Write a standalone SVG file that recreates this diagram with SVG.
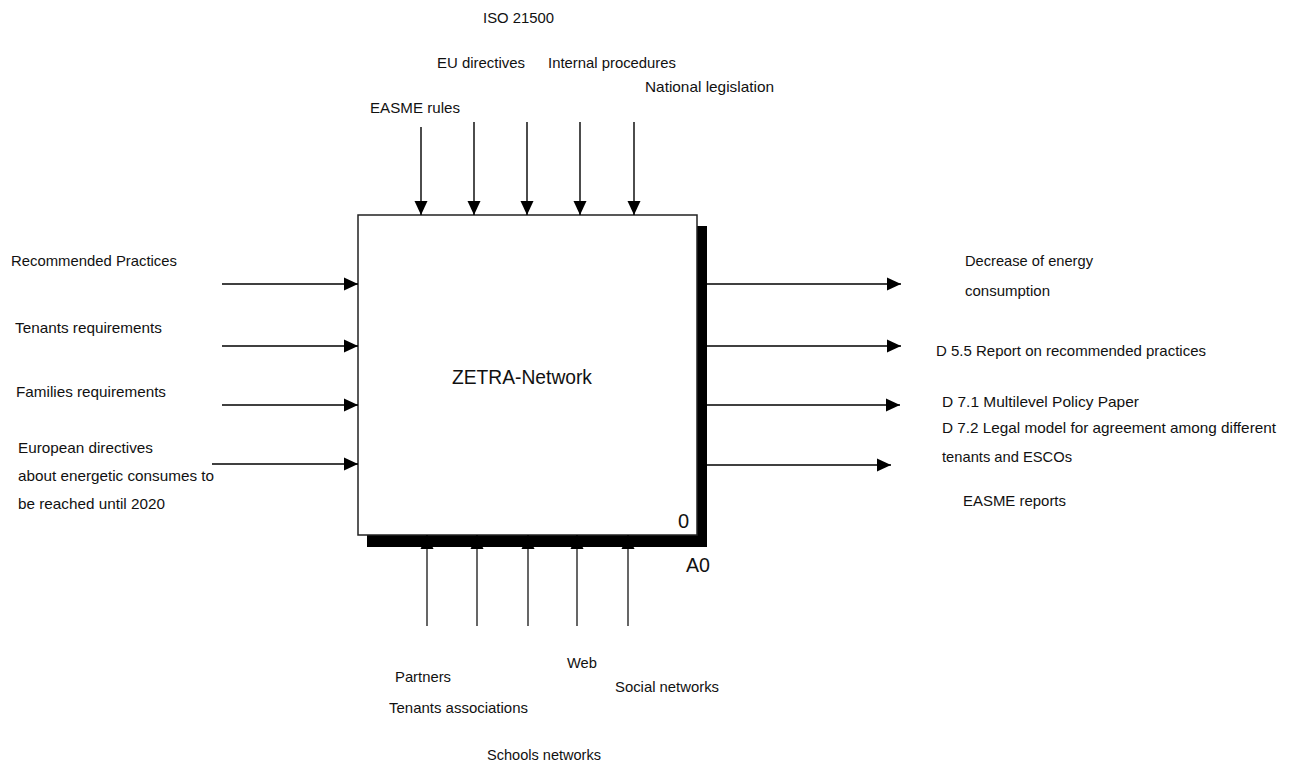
<svg xmlns="http://www.w3.org/2000/svg" width="1291" height="765" viewBox="0 0 1291 765">
<style>
text{font-family:"Liberation Sans",Arial,sans-serif;font-size:15px;fill:#111}
.big{font-size:20px}
.c line{stroke:#000;stroke-width:1.7}
.c line.thin{stroke-width:1.2}
.c line.v{stroke-width:1.4}
</style>
<defs>
<marker id="ah" markerUnits="userSpaceOnUse" markerWidth="14" markerHeight="14" refX="14" refY="6.5" orient="auto" viewBox="0 0 14 13">
<path d="M0,0 L14,6.5 L0,13 z" fill="#000"/>
</marker>
</defs>
<rect width="1291" height="765" fill="#fff"/>

<g id="node-A0">
<rect x="367" y="226" width="340" height="321" fill="#000"/>
<rect x="358" y="215" width="339" height="320" fill="#fff" stroke="#222" stroke-width="1.5"/>
<text class="big" x="452" y="384" textLength="140" lengthAdjust="spacingAndGlyphs">ZETRA-Network</text>
<text class="big" x="678" y="528">0</text>
<text class="big" x="686" y="572" textLength="24" lengthAdjust="spacingAndGlyphs">A0</text>
</g>

<g id="connectors" class="c">
<line class="v" x1="421" y1="127" x2="421" y2="215" marker-end="url(#ah)"/>
<line class="v" x1="474" y1="122" x2="474" y2="215" marker-end="url(#ah)"/>
<line class="v" x1="527" y1="122" x2="527" y2="215" marker-end="url(#ah)"/>
<line class="v" x1="580" y1="122" x2="580" y2="215" marker-end="url(#ah)"/>
<line class="v" x1="634" y1="122" x2="634" y2="215" marker-end="url(#ah)"/>

<line x1="222" y1="284" x2="358" y2="284" marker-end="url(#ah)"/>
<line x1="222" y1="346" x2="358" y2="346" marker-end="url(#ah)"/>
<line x1="222" y1="405" x2="358" y2="405" marker-end="url(#ah)"/>
<line x1="212" y1="464" x2="358" y2="464" marker-end="url(#ah)"/>

<line x1="707" y1="284" x2="901" y2="284" marker-end="url(#ah)"/>
<line x1="707" y1="346" x2="901" y2="346" marker-end="url(#ah)"/>
<line x1="707" y1="405" x2="900" y2="405" marker-end="url(#ah)"/>
<line x1="707" y1="465" x2="891" y2="465" marker-end="url(#ah)"/>

<line class="thin" x1="427" y1="626" x2="427" y2="535" marker-end="url(#ah)"/>
<line class="thin" x1="477" y1="626" x2="477" y2="535" marker-end="url(#ah)"/>
<line class="thin" x1="528" y1="626" x2="528" y2="535" marker-end="url(#ah)"/>
<line class="thin" x1="577" y1="626" x2="577" y2="535" marker-end="url(#ah)"/>
<line class="thin" x1="628" y1="626" x2="628" y2="535" marker-end="url(#ah)"/>
</g>

<g id="labels-controls">
<text x="483" y="23" textLength="71" lengthAdjust="spacingAndGlyphs">ISO 21500</text>
<text x="437" y="68" textLength="88" lengthAdjust="spacingAndGlyphs">EU directives</text>
<text x="548" y="68" textLength="128" lengthAdjust="spacingAndGlyphs">Internal procedures</text>
<text x="645" y="92" textLength="129" lengthAdjust="spacingAndGlyphs">National legislation</text>
<text x="370" y="113" textLength="90" lengthAdjust="spacingAndGlyphs">EASME rules</text>
</g>

<g id="labels-inputs">
<text x="11" y="266" textLength="166" lengthAdjust="spacingAndGlyphs">Recommended Practices</text>
<text x="15" y="333" textLength="147" lengthAdjust="spacingAndGlyphs">Tenants requirements</text>
<text x="16" y="397" textLength="150" lengthAdjust="spacingAndGlyphs">Families requirements</text>
<text x="18" y="453" textLength="135" lengthAdjust="spacingAndGlyphs">European directives</text>
<text x="18" y="481" textLength="196" lengthAdjust="spacingAndGlyphs">about  energetic consumes to</text>
<text x="18" y="509" textLength="147" lengthAdjust="spacingAndGlyphs">be reached until 2020</text>
</g>

<g id="labels-outputs">
<text x="965" y="266" textLength="128" lengthAdjust="spacingAndGlyphs">Decrease of energy</text>
<text x="965" y="296" textLength="85" lengthAdjust="spacingAndGlyphs">consumption</text>
<text x="936" y="356" textLength="270" lengthAdjust="spacingAndGlyphs">D 5.5 Report on recommended practices</text>
<text x="942" y="407" textLength="197" lengthAdjust="spacingAndGlyphs">D 7.1 Multilevel Policy Paper</text>
<text x="942" y="433" textLength="334" lengthAdjust="spacingAndGlyphs">D 7.2 Legal model for agreement among different</text>
<text x="942" y="462" textLength="130" lengthAdjust="spacingAndGlyphs">tenants and ESCOs</text>
<text x="963" y="506" textLength="103" lengthAdjust="spacingAndGlyphs">EASME reports</text>
</g>

<g id="labels-mechanisms">
<text x="395" y="682" textLength="56" lengthAdjust="spacingAndGlyphs">Partners</text>
<text x="389" y="713" textLength="139" lengthAdjust="spacingAndGlyphs">Tenants associations</text>
<text x="567" y="668" textLength="30" lengthAdjust="spacingAndGlyphs">Web</text>
<text x="615" y="692" textLength="104" lengthAdjust="spacingAndGlyphs">Social networks</text>
<text x="487" y="760" textLength="114" lengthAdjust="spacingAndGlyphs">Schools networks</text>
</g>
</svg>
